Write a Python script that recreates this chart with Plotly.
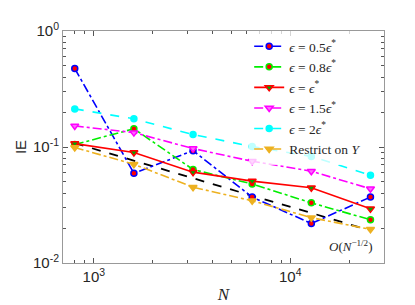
import plotly.graph_objects as go
import numpy as np

N = [800, 1600, 3200, 6400, 12800, 25600]
ie_05 = [0.475, 0.0594, 0.093, 0.037, 0.0219, 0.037]
ie_08 = [0.105, 0.1436, 0.064, 0.048, 0.033, 0.0236]
ie_10 = [0.107, 0.0897, 0.0607, 0.0508, 0.0445, 0.0293]
ie_15 = [0.152, 0.133, 0.097, 0.0753, 0.0618, 0.0436]
ie_20 = [0.213, 0.175, 0.128, 0.101, 0.083, 0.057]
ie_restrict = [0.099, 0.071, 0.045, 0.0344, 0.0246, 0.0195]
ref_line = [0.108, 0.076, 0.054, 0.038, 0.027, 0.019]

names = ["<i>ϵ</i> = 0.5<i>ϵ</i><sup>*</sup>", "<i>ϵ</i> = 0.8<i>ϵ</i><sup>*</sup>",
         "<i>ϵ</i> = <i>ϵ</i><sup>*</sup>", "<i>ϵ</i> = 1.5<i>ϵ</i><sup>*</sup>",
         "<i>ϵ</i> = 2<i>ϵ</i><sup>*</sup>", "Restrict on <i>Y</i>"]

series = [
    (ie_05, "#0000FF", "dashdot", "circle", "#FF0000", "#0000FF", 6),
    (ie_08, "#00EE00", "dashdot", "circle", "#FF0000", "#00EE00", 6),
    (ie_10, "#FF0000", "solid", "triangle-down", "#00AA00", "#FF0000", 7),
    (ie_15, "#FF00FF", "dashdot", "triangle-down", "#FF66FF", "#FF00FF", 7),
    (ie_20, "#00FFFF", "dash", "circle", "#00FFFF", "#00FFFF", 6),
    (ie_restrict, "#EDB120", "dashdot", "triangle-down", "#EDB120", "#EDB120", 7),
]

fig = go.Figure()
fig.add_trace(go.Scatter(x=N, y=ref_line, mode="lines", showlegend=False,
                         line=dict(color="black", width=1.8, dash="dash")))
for (vals, col, dash, sym, fill, edge, sz), nm in zip(series, names):
    fig.add_trace(go.Scatter(x=N, y=vals, mode="lines+markers", name=nm,
                             line=dict(color=col, width=1.6, dash=dash),
                             marker=dict(symbol=sym, size=sz, color=fill,
                                         line=dict(color=edge, width=1.5))))

xminor = [m * 10 ** e for e in (2, 3, 4) for m in range(2, 10)]
yminor = [m * 10 ** e for e in (-2, -1) for m in range(2, 10)]

axis_common = dict(showline=True, linecolor="#999999", linewidth=1, mirror="ticks",
                   ticks="inside", ticklen=5, tickcolor="#555555", showgrid=False,
                   zeroline=False, tickfont=dict(family="Liberation Sans, Arial", size=15, color="#262626"))

fig.update_xaxes(type="log", range=[np.log10(697), np.log10(30000)],
                 tickvals=[1000, 10000], ticktext=["10<sup>3</sup>", "10<sup>4</sup>"],
                 minor=dict(tickvals=xminor, ticks="inside", ticklen=3, tickcolor="#555555"),
                 title=dict(text="<i>N</i>", font=dict(family="Liberation Serif, Times New Roman", size=17, color="#262626"), standoff=4),
                 **axis_common)
fig.update_yaxes(type="log", range=[-2, 0],
                 tickvals=[0.01, 0.1, 1], ticktext=["10<sup>-2</sup>", "10<sup>-1</sup>", "10<sup>0</sup>"],
                 minor=dict(tickvals=yminor, ticks="inside", ticklen=3, tickcolor="#555555"),
                 title=dict(text="IE", font=dict(family="Liberation Sans, Arial", size=15, color="#262626"), standoff=2),
                 **axis_common)

fig.add_annotation(x=0.972, y=0.075, xref="paper", yref="paper", xanchor="right", yanchor="middle",
                   text="<i>O</i>(<i>N</i><sup>−1/2</sup>)", showarrow=False,
                   font=dict(family="Liberation Serif, DejaVu Serif", size=13, color="#262626"))

fig.update_layout(width=415, height=305, margin=dict(l=54, r=39, t=22, b=47),
                  plot_bgcolor="white", paper_bgcolor="white",
                  legend=dict(x=0.58, y=1.0, xanchor="left", yanchor="top",
                              bgcolor="rgba(255,255,255,0.75)", borderwidth=0,
                              font=dict(family="Liberation Serif, Times New Roman", size=13.5, color="#262626"),
                              itemwidth=30, tracegroupgap=0),
                  showlegend=True)

fig.write_html("out.html")
